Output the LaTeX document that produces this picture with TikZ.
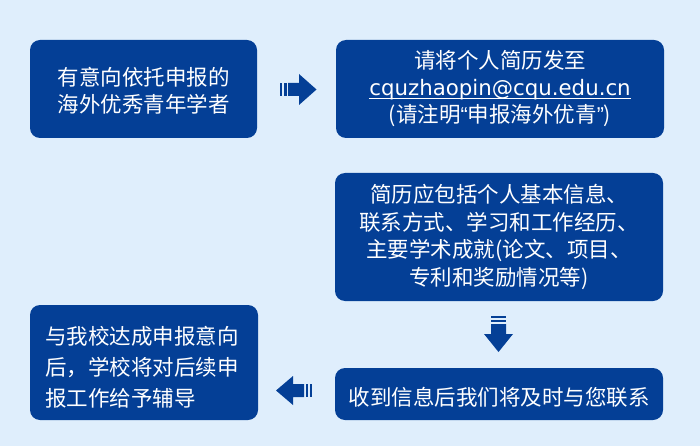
\documentclass[tikz,border=0pt]{standalone}
\usepackage{fontspec}
\setmainfont{Noto Sans CJK SC}
\newfontfamily\latinfont{DejaVu Sans}
\newfontfamily\quotefont{Liberation Sans}
\definecolor{bgblue}{RGB}{223,238,252}
\definecolor{boxblue}{RGB}{4,63,150}
\newcommand\myul[1]{\setbox0\hbox{#1}\rlap{\rule[-2.6pt]{\wd0}{0.9pt}}\box0}
% push a centred text block down by half of #1
\newcommand\pushdown[2]{\raisebox{0pt}[\dimexpr\height+#1\relax]{#2}}
\begin{document}
\begin{tikzpicture}[x=1pt,y=-1pt,
  box/.style={fill=boxblue, rounded corners=10pt, draw=none, text=white,
    align=center, inner sep=0pt,
    font=\fontsize{21.5pt}{27pt}\selectfont},
  arr/.style={fill=boxblue}]
\fill[bgblue] (0,0) rectangle (700,446);
\useasboundingbox (0,0) rectangle (700,446);
% boxes
\node[box, minimum width=227pt, minimum height=98pt] (b1) at (143.5,89)
  {\pushdown{4pt}{有意向依托申报的}\\海外优秀青年学者};
\node[box, minimum width=328pt, minimum height=98pt] (b2) at (500,89)
  {请将个人简历发至\\\myul{\fontsize{21.3pt}{27pt}\latinfont cquzhaopin@cqu.edu.cn}\\(请注明{\quotefont“}申报海外优青{\quotefont”})};
\node[box, minimum width=328pt, minimum height=128pt,
  font=\fontsize{21.5pt}{27.5pt}\selectfont] (b3) at (499,237)
  {简历应包括个人基本信息、\\联系方式、学习和工作经历、\\主要学术成就(论文、项目、\\专利和奖励情况等)};
\node[box, minimum width=328pt, minimum height=52pt] (b5) at (499,394)
  {\pushdown{6pt}{收到信息后我们将及时与您联系}};
\node[box, minimum width=228pt, minimum height=115pt, align=left,
  text width=198pt, font=\fontsize{21.5pt}{31pt}\selectfont] (b4) at (144,362.5)
  {\pushdown{10pt}{与我校达成申报意向}\\后，学校将对后续申\\报工作给予辅导};
% right arrow b1 -> b2
\fill[arr] (280,83) rectangle (282,96);
\fill[arr] (284,83) rectangle (286.5,96);
\fill[arr] (288,83) -- (299,83) -- (299,74) -- (316.5,89.5) -- (299,105) -- (299,96) -- (288,96) -- cycle;
% down arrow b3 -> b5
\fill[arr] (491,316) rectangle (506,318);
\fill[arr] (491,320) rectangle (506,322);
\fill[arr] (491,324) -- (491,334) -- (484,334) -- (498.5,352) -- (513,334) -- (506,334) -- (506,324) -- cycle;
% left arrow b5 -> b4
\fill[arr] (276,390.5) -- (293,376) -- (293,384) -- (304,384) -- (304,397) -- (293,397) -- (293,405) -- cycle;
\fill[arr] (305.5,384) rectangle (308,397);
\fill[arr] (310,384) rectangle (312.3,397);
\end{tikzpicture}
\end{document}
